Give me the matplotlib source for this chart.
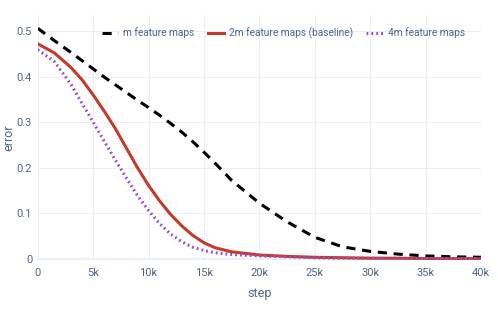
import numpy as np
import matplotlib.pyplot as plt

steps = [0, 1500, 3000, 4000, 5000, 6000, 7000, 8000, 9000, 10000, 11000, 12000,
         13000, 14000, 15000, 16000, 17500, 20000, 22500, 25000, 27500, 30000,
         32500, 35000, 37500, 40000]
err_m = [0.506, 0.479, 0.453, 0.435, 0.417, 0.399, 0.382, 0.365, 0.348, 0.332,
         0.315, 0.297, 0.278, 0.257, 0.234, 0.210, 0.172, 0.122, 0.081, 0.047,
         0.026, 0.016, 0.010, 0.006, 0.004, 0.003]
err_2m = [0.472, 0.452, 0.420, 0.393, 0.360, 0.324, 0.286, 0.243, 0.200, 0.161,
          0.127, 0.097, 0.072, 0.051, 0.035, 0.024, 0.015, 0.008, 0.005, 0.003,
          0.002, 0.001, 0.001, 0.000, 0.000, 0.000]
err_4m = [0.459, 0.433, 0.383, 0.341, 0.300, 0.258, 0.217, 0.177, 0.139, 0.106,
          0.077, 0.054, 0.037, 0.025, 0.018, 0.013, 0.009, 0.006, 0.004, 0.002,
          0.001, 0.001, 0.000, 0.000, 0.000, 0.000]

xticks = [0, 5000, 10000, 15000, 20000, 25000, 30000, 35000, 40000]
xlabels = ["0", "5k", "10k", "15k", "20k", "25k", "30k", "35k", "40k"]
yticks = [0, 0.1, 0.2, 0.3, 0.4, 0.5]
ylabels = ["0", "0.1", "0.2", "0.3", "0.4", "0.5"]

plt.rcParams['font.family'] = ['Roboto', 'DejaVu Sans']
txt = "#506784"
grid = "#ebf0f8"

fig = plt.figure(figsize=(4.98, 3.21), dpi=100)
ax = fig.add_axes([0.0757, 0.19, 0.890, 0.763])

ax.plot(steps, err_m, color="black", lw=2.2, ls=(0, (3, 2.2)), label="m feature maps")
ax.plot(steps, err_2m, color="#c43a2b", lw=2.2, label="2m feature maps (baseline)")
ax.plot(steps, err_4m, color="#9b4dc4", lw=2.2, ls=(0, (0.6, 1.0)), label="4m feature maps")

ax.set_xlim(0, 40000)
ax.set_ylim(-0.003, 0.535)
ax.set_xticks(xticks, xlabels)
ax.set_yticks(yticks, ylabels)
ax.tick_params(length=0, labelsize=8, colors=txt)
ax.tick_params(axis="x", pad=6)
ax.tick_params(axis="y", pad=4)
ax.grid(True, color=grid, lw=0.8)
ax.axhline(0, color=grid, lw=2, zorder=0.5)
for s in ax.spines.values():
    s.set_visible(False)
ax.set_axisbelow(True)

ax.set_xlabel("step", color=txt, fontsize=9, labelpad=6)
ax.set_ylabel("error", color=txt, fontsize=9, va="center")
ax.yaxis.set_label_coords(-0.065, 0.5)

fig.legend(ncol=3, loc="center left", bbox_to_anchor=(102 / 498, 1 - 33 / 321),
           frameon=False, fontsize=7.3, labelcolor=txt, handlelength=1.6,
           handletextpad=0.5, columnspacing=1.3, borderaxespad=0, borderpad=0)

fig.savefig("out.png", dpi=100)
